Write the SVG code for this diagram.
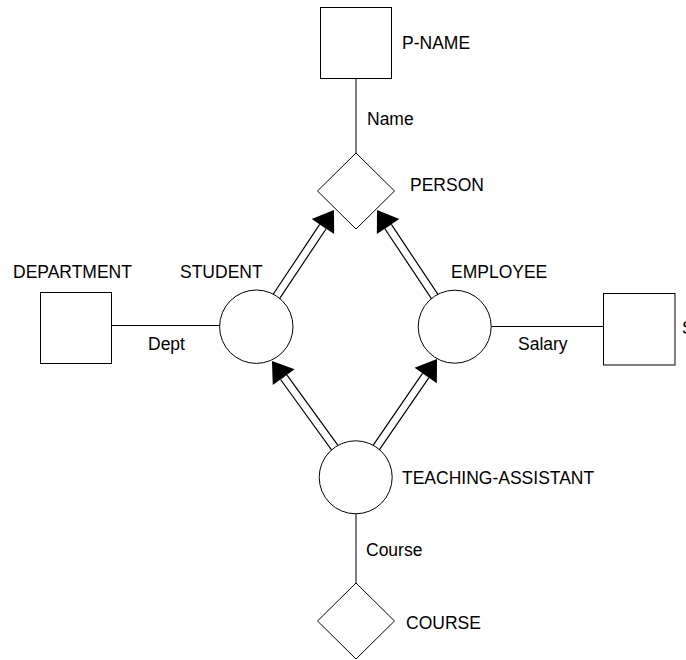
<svg xmlns="http://www.w3.org/2000/svg" width="686" height="660" viewBox="0 0 686 660">
  <style>
    .shape { fill: #ffffff; stroke: #000000; stroke-width: 1; }
    .link { fill: none; stroke: #000000; stroke-width: 1; }
    .rail { fill: none; stroke: #000000; stroke-width: 9; stroke-linecap: butt; }
    .gap { fill: none; stroke: #ffffff; stroke-width: 6.6; stroke-linecap: butt; marker-end: url(#head); }
    text { font-family: "Liberation Sans", Arial, sans-serif; font-size: 17.5px; fill: #000000; }
  </style>
  <defs>
    <marker id="head" markerUnits="userSpaceOnUse" viewBox="0 0 20 27" markerWidth="20" markerHeight="27" refX="0" refY="13.5" orient="auto" overflow="visible">
      <path d="M0,0 L20,13.5 L0,27 Z" fill="#000000"/>
    </marker>
  </defs>

  <!-- connectors: plain attribute links and double-line ISA arrows -->
  <g id="connectors">
    <line class="link" x1="356" y1="78" x2="356" y2="153"/>
    <line class="link" x1="111" y1="325.5" x2="256" y2="325.5"/>
    <line class="link" x1="455" y1="326.5" x2="603.5" y2="326.5"/>
    <line class="link" x1="356" y1="477" x2="356" y2="583"/>

    <!-- STUDENT to PERSON -->
    <path class="rail" d="M256,327 L322.9,226.6"/>
    <path class="gap" d="M256,327 L322.9,226.6"/>
    <!-- EMPLOYEE to PERSON -->
    <path class="rail" d="M455,327 L388.1,226.6"/>
    <path class="gap" d="M455,327 L388.1,226.6"/>
    <!-- TEACHING-ASSISTANT to STUDENT -->
    <path class="rail" d="M356,477 L283.7,377.2"/>
    <path class="gap" d="M356,477 L283.7,377.2"/>
    <!-- TEACHING-ASSISTANT to EMPLOYEE -->
    <path class="rail" d="M356,477 L425.7,375.5"/>
    <path class="gap" d="M356,477 L425.7,375.5"/>

    <text x="367" y="125">Name</text>
    <text x="148" y="350">Dept</text>
    <text x="518" y="350">Salary</text>
    <text x="366" y="556">Course</text>
  </g>

  <g id="p-name">
    <rect class="shape" x="320.5" y="7.5" width="71" height="71"/>
    <text x="402" y="48.5">P-NAME</text>
  </g>

  <g id="person">
    <polygon class="shape" points="356,153 394.5,191 356,229 317.5,191"/>
    <text x="410" y="191">PERSON</text>
  </g>

  <g id="department">
    <rect class="shape" x="40.5" y="292.5" width="71" height="71"/>
    <text x="13" y="278">DEPARTMENT</text>
  </g>

  <g id="student">
    <circle class="shape" cx="256.3" cy="326.7" r="36.7"/>
    <text x="180" y="278">STUDENT</text>
  </g>

  <g id="employee">
    <circle class="shape" cx="454.7" cy="326.7" r="36.5"/>
    <text x="451" y="278">EMPLOYEE</text>
  </g>

  <g id="salary">
    <rect class="shape" x="603.5" y="293.5" width="71.5" height="71.5"/>
    <text x="682" y="334">SALARY</text>
  </g>

  <g id="teaching-assistant">
    <circle class="shape" cx="355.7" cy="477.3" r="36.5"/>
    <text x="402" y="484">TEACHING-ASSISTANT</text>
  </g>

  <g id="course">
    <polygon class="shape" points="356,583 394.5,621 356,659 317.5,621"/>
    <text x="406" y="629">COURSE</text>
  </g>
</svg>
